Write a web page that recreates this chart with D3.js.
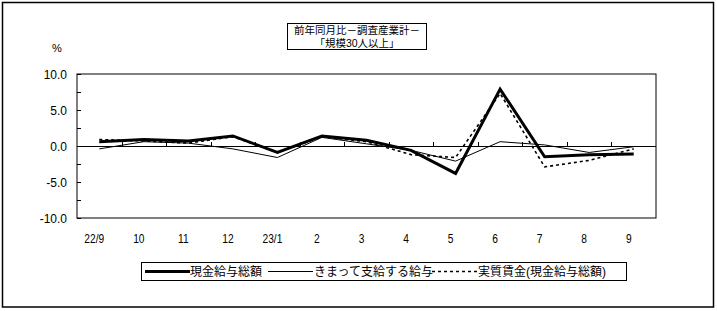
<!DOCTYPE html>
<html><head><meta charset="utf-8">
<script src="https://cdn.jsdelivr.net/npm/d3@7"></script>
<style>body{margin:0;background:#fff}svg{display:block}text{font-family:"Liberation Sans","Noto Sans CJK JP",sans-serif;fill:#000}</style>
</head><body><svg id="c" width="717" height="311"></svg>
<script>
const categories = ["22/9","10","11","12","23/1","2","3","4","5","6","7","8","9"];
const totalCash = [0.6,0.9,0.7,1.4,-0.9,1.4,0.8,-0.6,-3.8,7.9,-1.5,-1.2,-1.1];
const scheduled = [-0.4,0.6,0.4,-0.4,-1.6,1.2,0.3,-0.6,-2.1,0.6,0.15,-0.9,-0.1];
const realWages = [0.9,0.7,0.4,1.3,-0.9,1.3,0.6,-1.2,-1.6,7.3,-2.9,-2.0,-0.4];
const yTicks = [-10,-7.5,-5,-2.5,0,2.5,5,7.5,10];
const yLabels = [-10,-5,0,5,10];
const titleLines = ["前年同月比－調査産業計－","「規模30人以上」"];
const legendNames = ["現金給与総額","きまって支給する給与","実質賃金(現金給与総額)"];

const svg = d3.select("#c");
svg.append("rect").attr("x",2.5).attr("y",2.5).attr("width",711).attr("height",304.5)
  .attr("fill","#fff").attr("stroke","#000").attr("stroke-width",1.5);

const L=77,R=656,T=74,B=218;
const x = d3.scaleBand().domain(categories).range([L,R]).padding(0);
const y = d3.scaleLinear().domain([-10,10]).range([B,T]);
const cx = d => x(d)+x.bandwidth()/2;

// plot frame
svg.append("rect").attr("x",L).attr("y",T).attr("width",R-L).attr("height",B-T)
  .attr("fill","none").attr("stroke","#000").attr("stroke-width",1);
// y ticks (inner)
svg.append("g").selectAll("line").data(yTicks).join("line")
  .attr("x1",L).attr("x2",L+4).attr("y1",d=>Math.round(y(d))+0.5).attr("y2",d=>Math.round(y(d))+0.5)
  .attr("stroke","#000");
svg.append("g").selectAll("text").data(yLabels).join("text")
  .attr("x",67).attr("y",d=>y(d)+4.5).attr("text-anchor","end").attr("font-size",12)
  .text(d=>d3.format(".1f")(d).replace("−","-"));
svg.append("text").attr("x",52).attr("y",52).attr("font-size",11).text("%");
// zero line
svg.append("line").attr("x1",L).attr("x2",R).attr("y1",Math.round(y(0))+0.5).attr("y2",Math.round(y(0))+0.5).attr("stroke","#000");
// x ticks at band boundaries
svg.append("g").selectAll("line").data(categories.slice(1)).join("line")
  .attr("x1",d=>Math.round(x(d))+0.5).attr("x2",d=>Math.round(x(d))+0.5)
  .attr("y1",Math.round(y(0))+0.5).attr("y2",Math.round(y(0))-4).attr("stroke","#000");
svg.append("g").selectAll("text").data(categories).join("text")
  .attr("x",d=>cx(d)-5).attr("y",243).attr("text-anchor","middle").attr("font-size",12)
  .attr("transform",d=>`translate(${cx(d)-5},0) scale(0.85,1) translate(${-(cx(d)-5)},0)`)
  .text(d=>d);

const line = d3.line().x((d,i)=>cx(categories[i])).y(d=>y(d));
svg.append("path").datum(scheduled).attr("d",line).attr("fill","none").attr("stroke","#000").attr("stroke-width",1);
svg.append("path").datum(realWages).attr("d",line).attr("fill","none").attr("stroke","#000").attr("stroke-width",1.6).attr("stroke-dasharray","3,3");
svg.append("path").datum(totalCash).attr("d",line).attr("fill","none").attr("stroke","#000").attr("stroke-width",3);

// title box
svg.append("rect").attr("x",287.5).attr("y",23.5).attr("width",139).attr("height",26)
  .attr("fill","#fff").attr("stroke","#000");
svg.append("g").selectAll("text").data(titleLines).join("text")
  .attr("x",357).attr("y",(d,i)=>34+i*12.5).attr("text-anchor","middle").attr("font-size",10.5)
  .text(d=>d);

// legend
svg.append("rect").attr("x",141.5).attr("y",262.5).attr("width",485).attr("height",18)
  .attr("fill","#fff").attr("stroke","#000");
const lg = [
  {x1:145,x2:190,tx:190,w:3,dash:null},
  {x1:268,x2:313,tx:314,w:1,dash:null},
  {x1:432,x2:477,tx:478,w:1.6,dash:"3,3"}
];
lg.forEach((o,i)=>{
  svg.append("line").attr("x1",o.x1).attr("x2",o.x2).attr("y1",271.5).attr("y2",271.5)
    .attr("stroke","#000").attr("stroke-width",o.w).attr("stroke-dasharray",o.dash);
  svg.append("text").attr("x",o.tx).attr("y",276).attr("font-size",12)
    .text(legendNames[i]);
});
</script></body></html>
